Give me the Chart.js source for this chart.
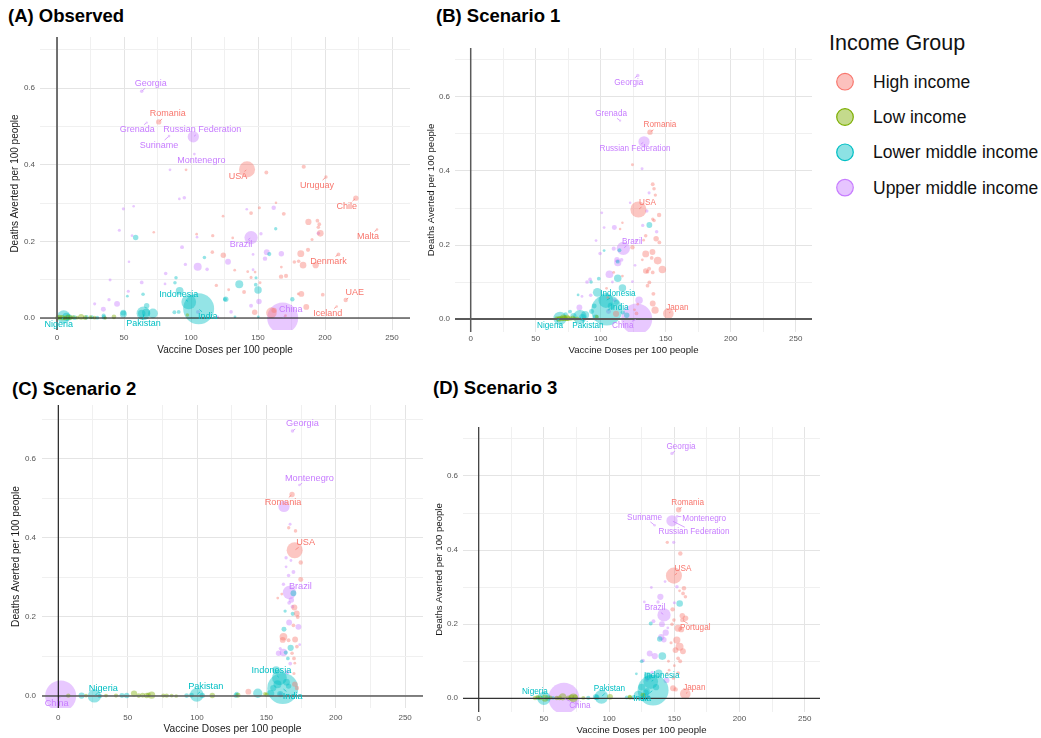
<!DOCTYPE html>
<html>
<head>
<meta charset="utf-8">
<script src="https://cdn.jsdelivr.net/npm/chart.js@4.4.1/dist/chart.umd.min.js"></script>
<style>
  html, body { margin:0; padding:0; background:#fff; width:1041px; height:738px; overflow:hidden; position:relative; }
  canvas { position:absolute; }
  #deco { position:absolute; left:0; top:0; }
</style>
</head>
<body>
<svg id="deco" width="1041" height="738" xmlns="http://www.w3.org/2000/svg"></svg>
<script>
// ---------- income groups ----------
const groups = ['High income', 'Low income', 'Lower middle income', 'Upper middle income'];
const groupColors = ['#F8766D', '#7CAE00', '#00BFC4', '#C77CFF'];

// ---------- axes ----------
const xGrid = [0, 25, 50, 75, 100, 125, 150, 175, 200, 225, 250];
const xTickLabels = [0, 50, 100, 150, 200, 250];
const yGrid = [0, 0.1, 0.2, 0.3, 0.4, 0.5, 0.6, 0.7];
const yTickLabels = [0, 0.2, 0.4, 0.6];
const xTitle = 'Vaccine Doses per 100 people';
const yTitle = 'Deaths Averted per 100 people';

// ---------- (A) Observed : [doses, deaths averted, population (M)] ----------
const obsNamed = [
  ['Georgia', 3, 63.2, 0.592, 3.7], ['Romania', 0, 75.9, 0.512, 19], ['Grenada', 3, 67, 0.51, 0.12],
  ['Russian Federation', 3, 101.7, 0.473, 144], ['Suriname', 3, 83.6, 0.475, 0.6], ['Montenegro', 3, 102.5, 0.428, 0.62],
  ['USA', 0, 141.8, 0.388, 332], ['Uruguay', 0, 200.7, 0.368, 3.4], ['Chile', 0, 223, 0.313, 19],
  ['Malta', 0, 238.8, 0.231, 0.5], ['Brazil', 3, 144.8, 0.21, 214], ['Denmark', 0, 210, 0.166, 5.9],
  ['UAE', 0, 215.4, 0.047, 9.4], ['Iceland', 0, 208.7, 0.03, 0.37], ['China', 3, 168.4, 0.0, 1412],
  ['India', 2, 105.7, 0.024, 1408], ['Indonesia', 2, 98.3, 0.042, 274], ['Pakistan', 2, 64.5, 0.012, 231],
  ['Nigeria', 2, 5, 0.003, 213]
];
const obsHigh = [
  [96.3,0.387,1],[156.2,0.38,6],[184.1,0.395,8],[163.4,0.301,0.5],[151,0.288,2],[144.8,0.274,5],[169.2,0.272,6],
  [123.9,0.266,0.8],[187.6,0.251,30],[194.3,0.254,5],[195.7,0.245,5],[195,0.237,4],[196.5,0.221,35],[190.3,0.205,2],
  [72.2,0.224,0.6],[104.2,0.219,0.8],[116.2,0.215,3],[131.1,0.209,1],[124.1,0.164,20],[115.9,0.172,4],[181.9,0.168,40],
  [187.3,0.178,8],[177.1,0.146,4],[180.3,0.148,4],[183.6,0.138,35],[193,0.138,30],[132.6,0.125,1],[142.3,0.121,1],
  [147.8,0.12,1],[144.8,0.106,2],[167.4,0.133,1],[167.2,0.108,10],[170.9,0.11,8],[118.9,0.085,3],[128.1,0.074,1.5],
  [139.6,0.068,6],[151.5,0.092,1.5],[182.3,0.063,25],[180,0.063,1],[198.3,0.061,5],[186,0.029,25],[147.5,0.015,20],
  [160,0.014,125],[162,0.02,20],[170.5,0.006,1]
];
const obsLow = [
  [0.5,0.001,12],[2,0.002,15],[4,0.001,20],[6,0,10],[8,0.002,18],[10,0.001,12],[12,0.002,8],[15,0.001,6],
  [18,0.003,25],[21,0.001,12],[25,0.002,6],[28,0.001,5],[36,0,3],[42.5,0.003,12],[97.3,0.008,4]
];
const obsLower = [
  [58.7,0.21,20],[110,0.158,4],[88.8,0.105,4],[88,0.092,4],[52.5,0.057,1],[64.2,0.062,4],[91.5,0.071,56],
  [66.9,0.032,20],[66.4,0.014,60],[71.6,0.012,100],[63.2,0.012,50],[49.5,0.014,25],[34.8,0.006,8],[125.4,0.049,6],
  [87.6,0.015,6],[90.8,0.016,6],[125.9,0.049,20],[136,0.088,60],[148.3,0.087,5],[150,0.073,50],[163.2,0.233,3],
  [175.6,0.049,10],[132.8,0.003,1],[150.2,0.003,1],[7,0.003,60],[9,0.002,30],[13,0.001,15],[22,0.002,10],
  [26,0.002,8],[30,0.001,6],[35,0.002,10],[49.5,0.01,40],[158.4,0.167,8],[148.5,0.105,2]
];
const obsUpper = [
  [84.3,0.387,1],[95,0.314,4],[91.3,0.311,1],[49.5,0.285,2],[57.2,0.292,0.5],[46.5,0.229,2],[56,0.215,1],
  [104.5,0.211,0.8],[93.3,0.185,6],[105,0.134,60],[95.8,0.14,3],[112,0.127,4],[53.7,0.147,0.5],[81.1,0.116,4],
  [80.6,0.089,1],[63.2,0.093,5],[39.6,0.099,1.5],[53.2,0.07,2],[44.8,0.037,25],[38.8,0.048,3],[28.1,0.037,2],
  [34.6,0.023,15],[105.2,0.016,6],[161.7,0.288,10],[141.6,0.284,0.8],[152.2,0.22,3],[156.5,0.172,25],
  [155.2,0.155,10],[167.4,0.168,20],[146.3,0.166,1],[127.6,0.147,25],[150.7,0.043,20],[144.8,0.032,6],
  [129.9,0.016,4],[119.9,0.003,1],[195,0.221,4],[146.3,0.126,1]
];

// ---------- (B) Scenario 1 ----------
const s1Named = [
  ['Georgia', 3, 128.5, 0.658, 3.7], ['Grenada', 3, 114.9, 0.536, 0.12], ['Romania', 0, 137.9, 0.505, 19],
  ['Russian Federation', 3, 133.3, 0.479, 144], ['USA', 0, 129, 0.296, 332], ['Brazil', 3, 117.4, 0.191, 214],
  ['Indonesia', 2, 104, 0.05, 274], ['India', 2, 104.6, 0.024, 1408], ['Nigeria', 2, 68.7, 0.002, 213],
  ['Pakistan', 2, 84, 0.006, 231], ['China', 3, 127.7, 0.0, 1412], ['Japan', 0, 152, 0.015, 125]
];
const s1High = [
  [124.4,0.417,1.5],[140,0.364,6],[141,0.352,4],[142,0.335,3],[144.9,0.281,10],[141,0.266,4],[140,0.27,3],
  [114.9,0.243,0.5],[116.7,0.26,0.5],[134.6,0.225,4],[142.6,0.217,20],[145.1,0.207,6],[133,0.213,1],
  [124.4,0.194,10],[134.6,0.176,40],[139.8,0.181,25],[139.2,0.165,5],[143.8,0.158,55],[132,0.16,1],
  [134.6,0.13,20],[137.2,0.136,6],[147.4,0.134,50],[140,0.126,5],[136,0.128,5],[110,0.126,1],[116.7,0.116,1],
  [137.4,0.099,6],[136,0.09,5],[104.5,0.083,1],[140.5,0.068,6],[140,0.042,25],[141.8,0.024,45],[126,0.025,1],
  [127.5,0.015,5],[111.8,0.014,30],[105.5,0.058,1],[128.5,0.04,1]
];
const s1Low = [
  [66,0.002,8],[67.5,0.001,10],[69,0.002,12],[70.5,0.001,15],[72,0.002,20],[73.5,0.001,10],[75,0.002,18],
  [77,0.001,8],[78.5,0.003,12],[80,0.001,6],[82,0.002,5],[71,0.004,25],[74,0.003,30],[97,0.006,6],[68,0,20]
];
const s1Lower = [
  [137.4,0.254,25],[114.4,0.186,6],[102.6,0.185,1],[113.1,0.155,6],[113.1,0.11,50],[98.5,0.109,5],[92.6,0.1,4],
  [116.7,0.084,50],[82.6,0.065,1],[97.4,0.072,80],[108,0.035,40],[112,0.045,20],[95,0.035,15],[76.4,0.02,6],
  [88,0.011,60],[93,0.02,15],[79,0.008,30],[73,0.012,10],[86,0.004,40],[96,0.004,25],[117,0.018,10],[120,0.01,20]
];
const s1Upper = [
  [131.8,0.406,1.5],[137.2,0.341,2],[122.6,0.314,0.5],[135.4,0.292,4],[100.8,0.287,1],[132.3,0.253,3],
  [110.5,0.247,15],[102.6,0.247,1],[143,0.236,4],[127.2,0.211,1.5],[96.4,0.212,1],[110,0.19,8],[99.5,0.177,4],
  [126.4,0.145,1],[113.1,0.152,45],[112.5,0.16,20],[106.7,0.121,55],[91.8,0.107,5],[89.5,0.1,5],[109,0.1,1],
  [124.4,0.101,1],[92.3,0.064,4],[85.6,0.061,1],[110.8,0.051,6],[129.5,0.051,50],[83.6,0.031,25],[106,0.02,15],
  [116,0.16,5]
];

// ---------- (C) Scenario 2 ----------
const s2Named = [
  ['Georgia', 3, 168.8, 0.671, 3.7], ['Montenegro', 3, 173.8, 0.534, 0.62], ['Romania', 0, 168.5, 0.51, 19],
  ['USA', 0, 170.4, 0.369, 332], ['Brazil', 3, 166.6, 0.262, 214], ['Indonesia', 2, 159.4, 0.046, 274],
  ['India', 2, 161.8, 0.019, 1408], ['Pakistan', 2, 99.8, 0.003, 231], ['Nigeria', 2, 26, 0.0, 213],
  ['China', 3, 1.7, 0.0, 1412]
];
const s2High = [
  [166.1,0.426,3],[171,0.418,4],[174.8,0.338,10],[174.8,0.295,15],[161.1,0.258,1],[158.2,0.248,1],
  [170.2,0.224,25],[171.9,0.209,25],[172.6,0.2,6],[169.5,0.179,5],[162.3,0.15,55],[161.8,0.142,25],
  [170.7,0.143,25],[166,0.141,6],[172,0.125,5],[168.5,0.108,4],[169.9,0.095,5],[170.5,0.083,1],[169.9,0.057,2],
  [170.5,0.03,20],[172,0.02,10],[137,0.011,25]
];
const s2Low = [
  [7.2,0.001,10],[34.4,0.001,6],[41.6,0.001,8],[54.6,0.006,30],[60.8,0.002,15],[63.7,0.001,20],[65,0.003,12],
  [67.3,0.002,45],[75.7,0.001,8],[78.1,0.001,10],[81.7,0.001,6],[111,0.001,20],[129.6,0.002,15],[149,0.005,6],
  [150.2,0.003,10],[58,0.001,12],[20,0.001,5],[85,0,5]
];
const s2Lower = [
  [16.8,0.001,30],[45.9,0.001,15],[49.3,0.001,20],[92.5,0.001,12],[103.8,0.001,20],[128.1,0.001,15],
  [143.8,0.007,90],[153,0.006,50],[169.5,0.26,25],[162.7,0.169,15],[167.5,0.122,30],[164,0.11,8],[165.5,0.095,5],
  [169,0.208,8],[163.5,0.215,3],[157,0.065,60],[158,0.03,60],[164.5,0.035,40],[166,0.025,20],[155,0.02,30],
  [160,0.005,30],[128.6,0.005,10],[96,0.002,15],[30,0,10]
];
const s2Upper = [
  [162.7,0.48,144],[167.1,0.435,1.5],[164.2,0.35,3],[167.7,0.343,1],[164.2,0.327,1],[169.5,0.314,6],[166,0.305,4],
  [162.3,0.283,3],[168,0.243,20],[166.4,0.236,5],[168.8,0.226,5],[166.4,0.186,25],[173.1,0.175,25],
  [162.3,0.11,50],[158.8,0.108,20],[167.2,0.082,5],[160,0.005,5],[165,0.06,10],[174,0.13,1],[160,0.12,2]
];

// ---------- (D) Scenario 3 ----------
const s3Named = [
  ['Georgia', 3, 148.2, 0.661, 3.7], ['Romania', 0, 153.3, 0.509, 19], ['Suriname', 3, 134.9, 0.467, 0.6],
  ['Montenegro', 3, 152.2, 0.491, 0.62], ['Russian Federation', 3, 148.2, 0.479, 144], ['USA', 0, 149.7, 0.331, 332],
  ['Brazil', 3, 142.1, 0.225, 214], ['Portugal', 0, 156.1, 0.211, 10.3], ['Indonesia', 2, 131.9, 0.045, 274],
  ['India', 2, 133.7, 0.022, 1408], ['Pakistan', 2, 94.1, 0.004, 231], ['Nigeria', 2, 50, 0.0, 213],
  ['China', 3, 65.3, 0.0, 1412], ['Japan', 0, 158.4, 0.012, 125]
];
const s3High = [
  [144.6,0.421,3],[154.6,0.391,10],[157.4,0.297,10],[156.7,0.283,5],[154,0.29,1],[158.5,0.274,4],[148.7,0.24,10],
  [156.1,0.223,20],[158.6,0.216,20],[149.7,0.211,4],[148.2,0.2,4],[152.8,0.189,40],[155.3,0.186,25],
  [151.9,0.157,45],[154,0.139,60],[150.9,0.13,25],[156.6,0.127,25],[152.9,0.108,5],[154.5,0.1,6],[145.5,0.1,1],
  [146,0.076,1],[144.5,0.067,1],[152.9,0.068,5],[149.3,0.055,5],[149,0.027,25],[151,0.024,10],[147.5,0.15,2],
  [150,0.088,1]
];
const s3Low = [
  [43.2,0.001,10],[47,0.001,12],[50.8,0,40],[55,0.002,8],[59.8,0.001,10],[64.4,0.004,45],[68.7,0.001,15],
  [72.6,0.001,80],[74,0.003,20],[80.2,0.001,6],[100.7,0.004,25],[115.8,0.004,6],[116,0.002,10],[126,0.008,15],
  [45,0.003,8],[71,0.002,25],[62,0.001,12]
];
const s3Lower = [
  [53,0.001,20],[84,0.001,8],[90.5,0.002,20],[89.8,0.004,25],[113.5,0.002,6],[118.6,0.002,10],[122.4,0.008,90],
  [127.5,0.004,55],[120.9,0.066,1],[129.8,0.06,55],[138,0.067,55],[125,0.03,40],[128,0.015,30],[136,0.03,30],
  [140.8,0.114,55],[154.1,0.256,35],[131.9,0.202,6],[138.8,0.16,20],[125,0.1,5],[129,0.02,25],[45.5,0.001,10],
  [57,0.001,6]
];
const s3Upper = [
  [149.5,0.421,3],[142.9,0.315,1],[152,0.301,4],[132.4,0.299,1],[139.3,0.274,30],[137.5,0.26,3],[127,0.26,1],
  [150,0.258,2],[134,0.208,6],[140.5,0.2,25],[145,0.19,1],[143.4,0.177,30],[140,0.165,30],[142,0.158,20],
  [131.1,0.121,25],[135,0.114,30],[126,0.102,5],[144,0.049,25],[129,0.05,5],[133,0.07,3],[60,0.002,5],[130,0.005,6]
];

// ---------- label placement (pixel offsets of each name from its bubble) ----------
const obsLabelOffset = {
  'Georgia':[9,-8], 'Romania':[9,-8], 'Grenada':[-9.5,7], 'Russian Federation':[9,-7], 'Suriname':[-10,9],
  'Montenegro':[7,6], 'USA':[-9,7], 'Uruguay':[-9,8], 'Chile':[-9,8], 'Malta':[-9,7], 'Brazil':[-10,7],
  'Denmark':[-10,7], 'UAE':[9,-7], 'Iceland':[-9,7], 'China':[8,-8], 'India':[9,8], 'Indonesia':[-10,-7],
  'Pakistan':[0,10], 'Nigeria':[-5,7.5]
};
const s1LabelOffset = {
  'Georgia':[-9,7], 'Grenada':[-9,-7], 'Romania':[10,-7], 'Russian Federation':[-9,7], 'USA':[9,-7],
  'Brazil':[9,-7], 'Indonesia':[12,-7], 'India':[13,-2], 'Nigeria':[-10,7], 'Pakistan':[8,9], 'China':[-14,7],
  'Japan':[9,-6]
};
const s2LabelOffset = {
  'Georgia':[10,-7], 'Montenegro':[10,-7], 'Romania':[-9,8], 'USA':[11,-8], 'Brazil':[11,-6],
  'Indonesia':[-8,-7], 'India':[10,8], 'Pakistan':[9,-8], 'Nigeria':[9,-8], 'China':[-4,7.5]
};
const s3LabelOffset = {
  'Georgia':[9,-7], 'Romania':[9,-7], 'Suriname':[-10,-8], 'Montenegro':[27,2], 'Russian Federation':[22,11],
  'USA':[9,-7], 'Brazil':[-9,-7], 'Portugal':[13,8], 'Indonesia':[11,-6], 'India':[-11,9], 'Pakistan':[8,-8],
  'Nigeria':[-9,-7], 'China':[16,7.5], 'Japan':[9,-6]
};

// ---------- helpers ----------
const FONT = '"Liberation Sans", Arial, Helvetica, sans-serif';
const MAX_POP = 1412;
function bubbleRadius(pop) { return 1 + 14.5 * Math.sqrt(pop / MAX_POP); }
function rgba(hex, a) {
  const n = parseInt(hex.slice(1), 16);
  return `rgba(${n >> 16},${(n >> 8) & 255},${n & 255},${a})`;
}

// country names with short leader segments
const countryLabels = {
  id: 'countryLabels',
  afterDatasetsDraw(chart, args, opts) {
    const { ctx } = chart;
    const xs = chart.scales.x, ys = chart.scales.y;
    ctx.save();
    ctx.font = `${opts.size}px ${FONT}`;
    ctx.textAlign = 'center';
    ctx.textBaseline = 'middle';
    for (const n of opts.named) {
      const [name, g, vx, vy] = n;
      const off = opts.offsets[name];
      if (!off) continue;
      const px = xs.getPixelForValue(vx), py = ys.getPixelForValue(vy);
      const tx = px + off[0], ty = py + off[1];
      const hw = ctx.measureText(name).width / 2 + 1, hh = opts.size / 2 + 0.5;
      // point where the line from the label centre to the bubble leaves the label box
      const dx = px - tx, dy = py - ty;
      const t = Math.min(dx !== 0 ? hw / Math.abs(dx) : Infinity, dy !== 0 ? hh / Math.abs(dy) : Infinity);
      if (t < 1) {
        const ex = tx + dx * t, ey = ty + dy * t;
        const len = Math.hypot(px - ex, py - ey);
        if (len > 2.5) {
          ctx.strokeStyle = groupColors[g];
          ctx.lineWidth = 0.7;
          ctx.beginPath();
          ctx.moveTo(px + (ex - px) * (1 / len), py + (ey - py) * (1 / len));
          ctx.lineTo(ex, ey);
          ctx.stroke();
        }
      }
      ctx.fillStyle = groupColors[g];
      ctx.fillText(name, tx, ty);
    }
    ctx.restore();
  }
};

const panels = [
  { title:'(A) Observed', titleAt:[8, 21.5], box:[0, 30, 420, 332], padTop:7, padRight:10, yw:40, xh:32,
    xr:[-12.69, 263.4], yr:[-0.0313, 0.7337], ytp:5, xtp:3, ytt:9.7, xtb:6, axisFont:10, labelFont:9,
    vline:['#5a5a5a', 1.7], hline:['#111', 1.1],
    series:[obsHigh, obsLow, obsLower, obsUpper], named:obsNamed, offsets:obsLabelOffset },
  { title:'(B) Scenario 1', titleAt:[436, 22], box:[420, 40, 400, 322], padTop:8, padRight:8, yw:35, xh:30,
    xr:[-12.08, 262.5], yr:[-0.0351, 0.7324], ytp:5, xtp:2.2, ytt:5.9, xtb:6.2, axisFont:9.6, labelFont:8.2,
    vline:['#5a5a5a', 1.5], hline:['#5a5a5a', 1.8],
    series:[s1High, s1Low, s1Lower, s1Upper], named:s1Named, offsets:s1LabelOffset },
  { title:'(C) Scenario 2', titleAt:[12, 395], box:[0, 398, 425, 340], padTop:7, padRight:2, yw:42, xh:30,
    xr:[-11.75, 262.9], yr:[-0.0304, 0.7367], ytp:6, xtp:5.2, ytt:9.7, xtb:3, axisFont:10.2, labelFont:9.2,
    vline:['#111', 1.1], hline:['#5a5a5a', 1.7],
    series:[s2High, s2Low, s2Lower, s2Upper], named:s2Named, offsets:s2LabelOffset },
  { title:'(D) Scenario 3', titleAt:[433, 394], box:[425, 420, 400, 318], padTop:7, padRight:5, yw:38, xh:26,
    xr:[-12.04, 261.7], yr:[-0.037, 0.7322], ytp:5, xtp:2.2, ytt:8.2, xtb:2.2, axisFont:9.6, labelFont:8.2,
    vline:['#333', 1.2], hline:['#333', 1.3],
    series:[s3High, s3Low, s3Lower, s3Upper], named:s3Named, offsets:s3LabelOffset }
];

function buildPanel(p) {
  const cv = document.createElement('canvas');
  cv.width = p.box[2]; cv.height = p.box[3];
  cv.style.left = p.box[0] + 'px'; cv.style.top = p.box[1] + 'px';
  document.body.appendChild(cv);

  const datasets = [
    { type:'line', data:[{x:0, y:-1}, {x:0, y:1}], borderColor:p.vline[0], borderWidth:p.vline[1],
      pointRadius:0, order:0 },
    { type:'line', data:[{x:-100, y:0}, {x:400, y:0}], borderColor:p.hline[0], borderWidth:p.hline[1],
      pointRadius:0, order:0 }
  ];
  p.series.forEach((pts, g) => {
    const data = pts.map(v => ({ x:v[0], y:v[1], r:bubbleRadius(v[2]) }));
    p.named.filter(n => n[1] === g).forEach(n => data.push({ x:n[2], y:n[3], r:bubbleRadius(n[4]) }));
    datasets.push({ type:'bubble', label:groups[g], data, backgroundColor:rgba(groupColors[g], 0.42),
      borderWidth:0, order:1 });
  });

  const tickFont = { family:FONT, size:8 };
  const titleFont = { family:FONT, size:p.axisFont };
  new Chart(cv, {
    type:'bubble',
    data:{ datasets },
    options:{
      responsive:false, maintainAspectRatio:false, animation:false,
      events:[],
      layout:{ autoPadding:false, padding:{ left:0, top:p.padTop, right:p.padRight, bottom:0 } },
      plugins:{ legend:{ display:false }, tooltip:{ enabled:false },
        countryLabels:{ named:p.named, offsets:p.offsets, size:p.labelFont } },
      scales:{
        x:{ type:'linear', position:'bottom', min:p.xr[0], max:p.xr[1],
          afterBuildTicks:s => { s.ticks = xGrid.map(v => ({ value:v })); },
          afterFit:s => { s.height = p.xh; s.paddingLeft = 0; s.paddingRight = 0; },
          border:{ display:false },
          grid:{ drawTicks:false, lineWidth:1,
            color:c => (c.tick && c.tick.value % 50 === 0) ? '#E4E4E4' : '#F0F0F0' },
          ticks:{ autoSkip:false, maxRotation:0, padding:p.xtp, color:'#555', font:tickFont,
            callback:v => xTickLabels.includes(v) ? String(v) : '' },
          title:{ display:true, text:xTitle, color:'#1a1a1a', font:titleFont, padding:{ top:0, bottom:p.xtb } } },
        y:{ type:'linear', position:'left', min:p.yr[0], max:p.yr[1],
          afterBuildTicks:s => { s.ticks = yGrid.map(v => ({ value:v })); },
          afterFit:s => { s.width = p.yw; s.paddingTop = 0; s.paddingBottom = 0; },
          border:{ display:false },
          grid:{ drawTicks:false, lineWidth:1,
            color:c => (c.tick && yTickLabels.includes(c.tick.value)) ? '#E4E4E4' : '#F0F0F0' },
          ticks:{ autoSkip:false, padding:p.ytp, color:'#555', font:tickFont,
            callback:v => yTickLabels.includes(v) ? v.toFixed(1) : '' },
          title:{ display:true, text:yTitle, color:'#1a1a1a', font:titleFont, padding:{ top:p.ytt, bottom:0 } } }
      }
    },
    plugins:[countryLabels]
  });
}

// ---------- panel titles and the shared legend ----------
const NS = 'http://www.w3.org/2000/svg';
const deco = document.getElementById('deco');
function svgEl(tag, attrs, text) {
  const e = document.createElementNS(NS, tag);
  for (const k in attrs) e.setAttribute(k, attrs[k]);
  if (text !== undefined) e.textContent = text;
  deco.appendChild(e);
  return e;
}
panels.forEach(p => svgEl('text', { x:p.titleAt[0], y:p.titleAt[1], 'font-family':FONT, 'font-size':18.5,
  'font-weight':'bold', fill:'#000' }, p.title));

svgEl('text', { x:829, y:50, 'font-family':FONT, 'font-size':21.5, fill:'#111' }, 'Income Group');
groups.forEach((g, i) => {
  const cy = 81.7 + i * 35.3;
  svgEl('circle', { cx:845, cy:cy, r:8.3, fill:rgba(groupColors[i], 0.45), stroke:groupColors[i], 'stroke-width':1.2 });
  svgEl('text', { x:873, y:cy + 6, 'font-family':FONT, 'font-size':17.5, fill:'#111' }, g);
});

panels.forEach(buildPanel);
</script>
</body>
</html>
